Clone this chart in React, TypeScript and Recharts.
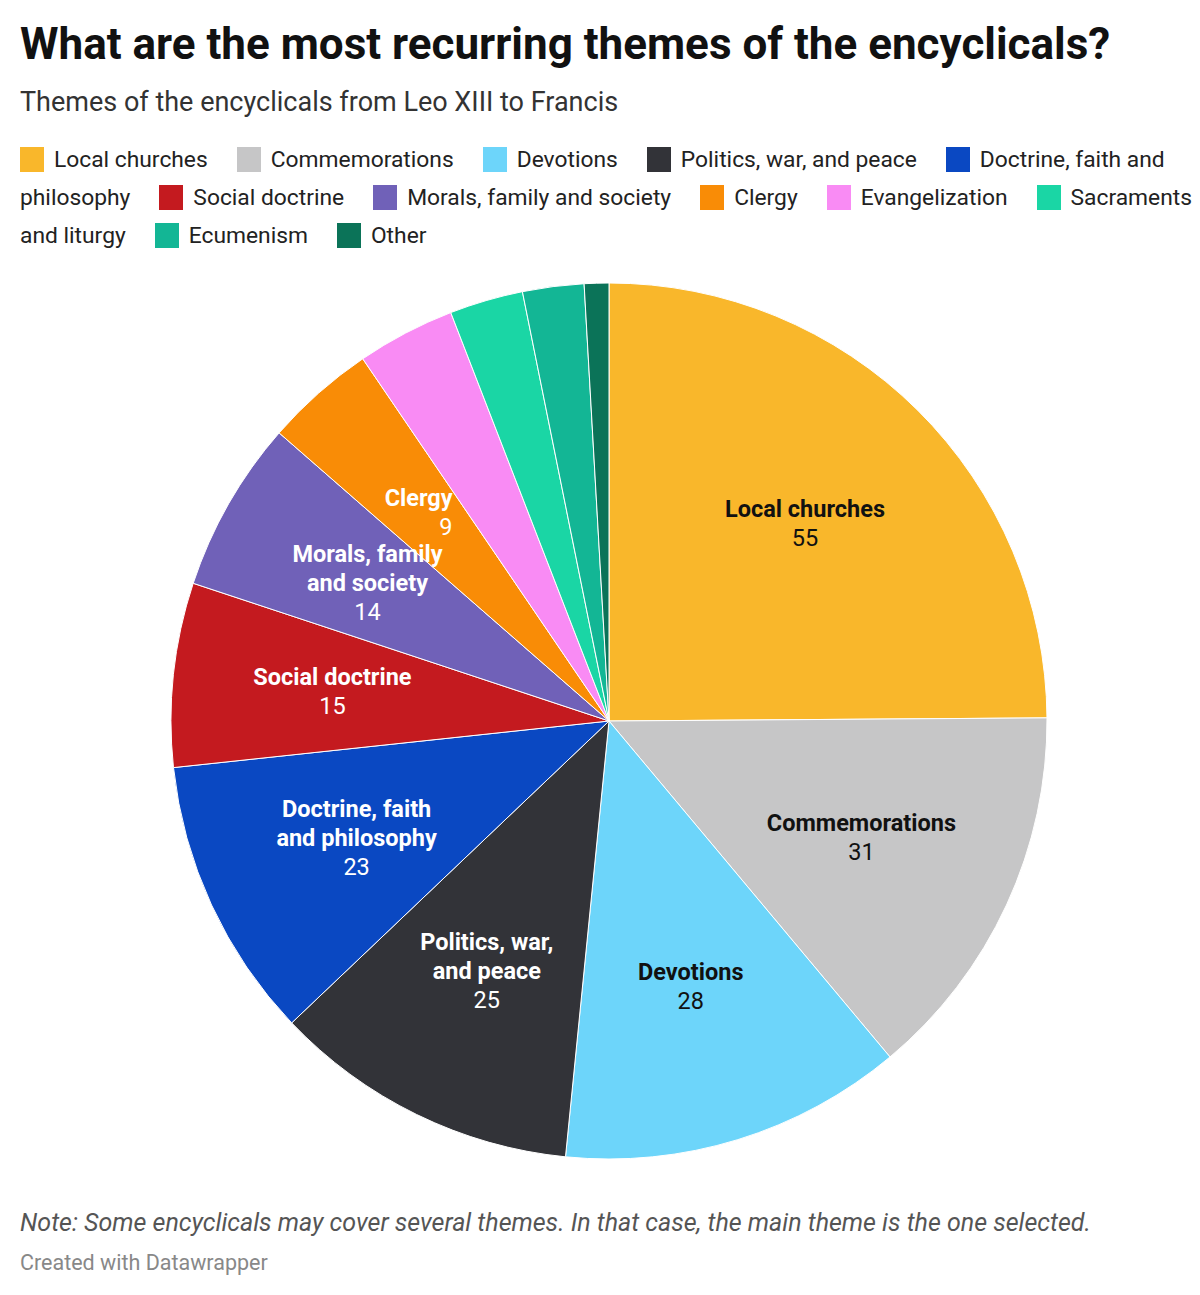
import React from "react";
import { PieChart, Pie, Cell } from "recharts";

const themes = [
  "Local churches",
  "Commemorations",
  "Devotions",
  "Politics, war, and peace",
  "Doctrine, faith and philosophy",
  "Social doctrine",
  "Morals, family and society",
  "Clergy",
  "Evangelization",
  "Sacraments and liturgy",
  "Ecumenism",
  "Other",
];

const counts = [55, 31, 28, 25, 23, 15, 14, 9, 8, 6, 5, 2];

// label text inside the slices (empty = no label)
const sliceLabels = [
  ["Local churches"],
  ["Commemorations"],
  ["Devotions"],
  ["Politics, war,", "and peace"],
  ["Doctrine, faith", "and philosophy"],
  ["Social doctrine"],
  ["Morals, family", "and society"],
  ["Clergy"],
  [],
  [],
  [],
  [],
];

const colors = [
  "#f9b72b",
  "#c6c6c7",
  "#6dd5fa",
  "#323338",
  "#0a48c2",
  "#c41a1f",
  "#7061b8",
  "#f98c06",
  "#f98bf4",
  "#1ad6a5",
  "#13b695",
  "#0b7358",
];

const labelColors = [
  "#111", "#111", "#111", "#fff", "#fff", "#fff", "#fff", "#fff",
  "#fff", "#fff", "#fff", "#fff",
];

const pieData = themes.map((name, i) => ({ name, value: counts[i] }));

const RAD = Math.PI / 180;

function SliceLabel(props: any) {
  const { cx, cy, midAngle, outerRadius, index, value } = props;
  const lines = sliceLabels[index];
  if (!lines || lines.length === 0) return null;
  const r = outerRadius * 0.635;
  const x = cx + r * Math.cos(-midAngle * RAD);
  const y = cy + r * Math.sin(-midAngle * RAD);
  const all = [...lines, String(value)];
  const lh = 29;
  const top = y - ((all.length - 1) * lh) / 2;
  // the clergy label hugs the slice edge, right aligned like the original
  const anchor = index === 7 ? "end" : "middle";
  const ax = index === 7 ? x + 28 : x;
  return (
    <text
      x={ax}
      y={top}
      fill={labelColors[index]}
      textAnchor={anchor}
      fontFamily="Roboto, sans-serif"
      fontSize={23.5}
    >
      {all.map((t, i) => (
        <tspan
          key={i}
          x={ax}
          y={top + i * lh}
          dominantBaseline="central"
          fontWeight={i < lines.length ? 700 : 400}
        >
          {t}
        </tspan>
      ))}
    </text>
  );
}

export default function App() {
  return (
    <div
      style={{
        position: "absolute",
        left: 0,
        top: 0,
        width: 1200,
        height: 1295,
        background: "#fff",
        fontFamily: "Roboto, sans-serif",
        color: "#1d1d1d",
        overflow: "hidden",
      }}
    >
      <div
        style={{
          position: "absolute",
          left: 20,
          top: 20,
          fontSize: 44,
          lineHeight: "48px",
          fontWeight: 700,
          color: "#111",
          whiteSpace: "nowrap",
        }}
      >
        What are the most recurring themes of the encyclicals?
      </div>
      <div
        style={{
          position: "absolute",
          left: 20,
          top: 86,
          fontSize: 27,
          lineHeight: "32px",
          color: "#333",
          whiteSpace: "nowrap",
        }}
      >
        Themes of the encyclicals from Leo XIII to Francis
      </div>
      <div
        style={{
          position: "absolute",
          left: 20,
          top: 141,
          width: 1180,
          fontSize: 22.8,
          lineHeight: "38px",
          color: "#222",
        }}
      >
        {themes.map((t, i) => (
          <span key={t} style={{ marginRight: 29 }}>
            <span
              style={{
                display: "inline-block",
                width: 24,
                height: 25,
                background: colors[i],
                verticalAlign: "-5px",
                marginRight: 10,
              }}
            />
            {t}
          </span>
        ))}
      </div>

      <div style={{ position: "absolute", left: 0, top: 270 }}>
        <PieChart
          width={1200}
          height={900}
          margin={{ top: 0, right: 0, bottom: 0, left: 0 }}
        >
          <Pie
            data={pieData}
            dataKey="value"
            nameKey="name"
            cx={609}
            cy={451}
            outerRadius={438}
            startAngle={90}
            endAngle={-270}
            stroke="#fff"
            strokeWidth={1}
            label={SliceLabel}
            labelLine={false}
            isAnimationActive={false}
          >
            {pieData.map((d, i) => (
              <Cell key={d.name} fill={colors[i]} />
            ))}
          </Pie>
        </PieChart>
      </div>

      <div
        style={{
          position: "absolute",
          left: 20,
          top: 1208,
          fontSize: 25,
          lineHeight: "30px",
          fontStyle: "italic",
          color: "#555",
          whiteSpace: "nowrap",
        }}
      >
        Note: Some encyclicals may cover several themes. In that case, the main theme is the one selected.
      </div>
      <div
        style={{
          position: "absolute",
          left: 20,
          top: 1249,
          fontSize: 21.5,
          lineHeight: "28px",
          color: "#888",
          whiteSpace: "nowrap",
        }}
      >
        Created with Datawrapper
      </div>
    </div>
  );
}
